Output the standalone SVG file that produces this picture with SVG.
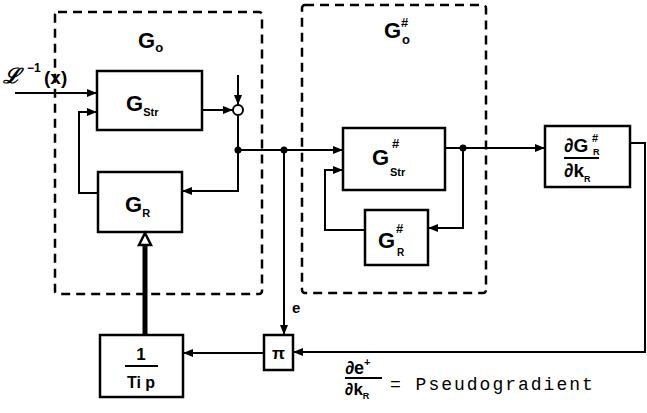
<svg xmlns="http://www.w3.org/2000/svg" width="647" height="413" viewBox="0 0 647 413">
<style>
.box{fill:#fff;stroke:#000;stroke-width:2.5}
.dash{fill:none;stroke:#000;stroke-width:2.5;stroke-dasharray:9 6}
.ln{fill:none;stroke:#000;stroke-width:2}
.g{font-family:"Liberation Sans",Arial,sans-serif;font-weight:bold;fill:#000}
.m{font-family:"Liberation Mono","DejaVu Sans Mono",monospace;fill:#000}
</style>
<defs>
<marker id="ah" markerUnits="userSpaceOnUse" markerWidth="10" markerHeight="8" refX="10" refY="4" orient="auto">
<path d="M0,0 L10,4 L0,8 Z" fill="#000"/>
</marker>
</defs>
<rect fill="#fff" width="647" height="413"/>
<g id="G0-frame"><rect class="dash" x="55" y="12" width="207" height="282" rx="3"/>
<text class="g" x="138" y="48" font-size="22">G<tspan font-size="13" dy="4">o</tspan></text></g>
<g id="G0s-frame"><rect class="dash" x="302" y="5" width="184" height="288" rx="3"/>
<text class="g" x="384" y="38" font-size="22">G</text>
<text class="g" x="401" y="27" font-size="13">#</text>
<text class="g" x="402" y="44" font-size="13">o</text></g>
<g id="input-label"><text class="g" x="3" y="83" font-size="21" font-style="italic">ℒ</text>
<text class="g" x="27" y="72" font-size="12">−1</text>
<text class="g" x="44" y="84" font-size="19">(x)</text></g>
<g id="Gstr"><rect class="box" x="97" y="71" width="105" height="59"/>
<text class="g" x="126" y="111" font-size="22">G<tspan font-size="11" dy="5">Str</tspan></text></g>
<g id="sum"><circle cx="238" cy="110" r="5" fill="#fff" stroke="#000" stroke-width="2"/></g>
<g id="GR"><rect class="box" x="98" y="172" width="84" height="60"/>
<text class="g" x="125" y="212" font-size="22">G<tspan font-size="11" dy="5">R</tspan></text></g>
<g id="Gstr-s"><rect class="box" x="343" y="128" width="102" height="62"/>
<text class="g" x="372" y="165" font-size="22">G</text>
<text class="g" x="392" y="148" font-size="13">#</text>
<text class="g" x="390" y="176" font-size="11">Str</text></g>
<g id="GR-s"><rect class="box" x="365" y="210" width="63" height="55"/>
<text class="g" x="378" y="248" font-size="22">G</text>
<text class="g" x="396" y="233" font-size="13">#</text>
<text class="g" x="397" y="256" font-size="10">R</text></g>
<g id="dGdk"><rect class="box" x="545" y="126" width="85" height="61"/>
<text class="g" x="564" y="152" font-size="19">∂G</text>
<text class="g" x="592" y="142" font-size="11">#</text>
<text class="g" x="593" y="155" font-size="9">R</text>
<line x1="564" y1="158" x2="599" y2="158" stroke="#000" stroke-width="2"/>
<text class="g" x="564" y="177" font-size="19">∂k<tspan font-size="9" dy="5">R</tspan></text></g>
<g id="pi"><rect class="box" x="264" y="335" width="29" height="35"/>
<text class="g" x="278.5" y="359" font-size="17" text-anchor="middle">π</text></g>
<g id="integ"><rect class="box" x="100" y="335" width="83" height="62"/>
<text class="g" x="141" y="360" font-size="17" text-anchor="middle">1</text>
<line x1="125" y1="366" x2="158" y2="366" stroke="#000" stroke-width="2"/>
<text class="g" x="141" y="388" font-size="16" text-anchor="middle">Ti p</text></g>
<g id="e-label"><text class="g" x="292" y="313" font-size="15">e</text></g>
<g id="pseudo-label">
<text class="g" x="345" y="374" font-size="18">∂e<tspan font-size="11" dy="-8">+</tspan></text>
<line x1="345" y1="378" x2="382" y2="378" stroke="#000" stroke-width="2"/>
<text class="g" x="345" y="395" font-size="17">∂k<tspan font-size="9" dy="4">R</tspan></text>
<text class="m" x="390" y="390" font-size="18" letter-spacing="2">= Pseudogradient</text></g>
<g id="connectors">
<path class="ln" d="M15,93 H97" marker-end="url(#ah)"/>
<path class="ln" d="M202,110 H233" marker-end="url(#ah)"/>
<path class="ln" d="M238,75 V105" marker-end="url(#ah)"/>
<path class="ln" d="M238,115 V191 H182" marker-end="url(#ah)"/>
<path class="ln" d="M98,193 H79 V112 H97" marker-end="url(#ah)"/>
<path class="ln" d="M238,150 H343" marker-end="url(#ah)"/>
<path class="ln" d="M284,150 V335" marker-end="url(#ah)"/>
<path class="ln" d="M445,148 H545" marker-end="url(#ah)"/>
<path class="ln" d="M463,148 V228 H428" marker-end="url(#ah)"/>
<path class="ln" d="M365,230 H325 V170 H343" marker-end="url(#ah)"/>
<path class="ln" d="M630,143 H645 V352 H293" marker-end="url(#ah)"/>
<path class="ln" d="M264,353 H183" marker-end="url(#ah)"/>
<path d="M145,335 V244" fill="none" stroke="#000" stroke-width="5"/>
<path d="M145,233 L151,245 L139,245 Z" fill="#fff" stroke="#000" stroke-width="2.5"/>
<circle cx="238" cy="150" r="3.5" fill="#000"/>
<circle cx="284" cy="150" r="3.5" fill="#000"/>
<circle cx="463" cy="148" r="3.5" fill="#000"/>
</g>
</svg>
